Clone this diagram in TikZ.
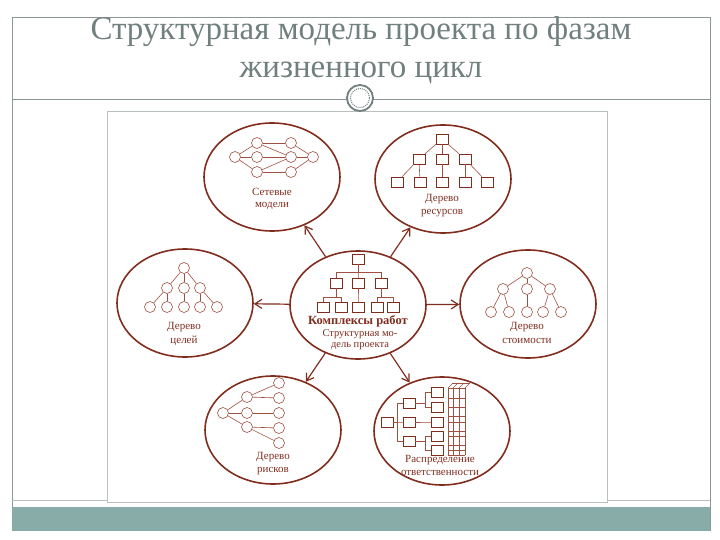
\documentclass[tikz,border=0pt]{standalone}
\usepackage{fontspec}
\setmainfont{Liberation Serif}
\usetikzlibrary{arrows.meta, positioning, shapes.geometric}
\definecolor{ink}{RGB}{128,45,30}
\definecolor{thin}{RGB}{160,80,65}
\definecolor{titlegray}{RGB}{112,128,126}
\definecolor{framegray}{RGB}{140,150,150}
\definecolor{teal}{RGB}{136,172,168}

\tikzset{
  bubble/.style={ellipse, draw=ink, line width=1.6pt, minimum width=136pt, minimum height=108pt, inner sep=0pt},
  dot/.style={circle, draw=thin, line width=0.6pt, minimum size=11pt, inner sep=0pt},
  box/.style={rectangle, draw=ink, line width=0.7pt, minimum width=12pt, minimum height=10pt, inner sep=0pt},
  link/.style={draw=thin, line width=0.6pt},
  lbl/.style={text=ink, font=\fontsize{11}{12}\selectfont, inner sep=0pt},
  arr/.style={draw=ink, line width=1.2pt, -{Straight Barb[length=7pt, width=9pt]}},
}

\begin{document}
\begin{tikzpicture}[x=1pt, y=-1pt]
  \useasboundingbox (0,0) rectangle (720,540);
  % Slide frame
  \draw[framegray, line width=0.8pt] (12,531) -- (12,17) -- (710,17) -- (710,531);
  \fill[teal] (12,507) rectangle (710,531);
  \draw[framegray!60, line width=0.5pt] (107,111) rectangle (607,502);
  \draw[framegray!60, line width=0.5pt] (12,500) -- (107,500) (607,500) -- (710,500);
  \draw[framegray, line width=0.8pt] (12,99) -- (710,99);
  \node[circle, draw=titlegray, fill=white, line width=1.8pt, minimum size=26pt] (ring) at (360,98) {};
  \node[circle, draw=titlegray, densely dotted, line width=1pt, minimum size=19pt] (ringin) at (ring) {};

  % Title
  \node[text=titlegray, font=\fontsize{33}{38}\selectfont, align=center] (title) at (361,50)
    {Структурная модель проекта по фазам\\жизненного цикл};

  % Ellipses
  \node[bubble] (net)  at (272,177) {};
  \node[bubble] (res)  at (443,179) {};
  \node[bubble] (goal) at (185,303) {};
  \node[bubble] (core) at (358,305) {};
  \node[bubble] (cost) at (528,304) {};
  \node[bubble] (risk) at (273,430) {};
  \node[bubble] (resp) at (442,431) {};

  % Arrows from the project model
  \foreach \t in {net, res, goal, cost, risk, resp}
    \draw[arr] (core) -- (\t);

  % Network models
  \node[dot] (nL) at (235,157) {};
  \node[dot] (nA) at (257,143) {};
  \node[dot] (nB) at (257,157) {};
  \node[dot] (nC) at (257,172) {};
  \node[dot] (nD) at (291,143) {};
  \node[dot] (nE) at (291,157) {};
  \node[dot] (nF) at (291,172) {};
  \node[dot] (nR) at (313,157) {};
  \foreach \a/\b in {nL/nA, nL/nB, nL/nC, nA/nD, nB/nE, nC/nF, nD/nR, nE/nR, nF/nR, nA/nE, nC/nE}
    \draw[link] (\a) -- (\b);
  \node[lbl] (netA) at (272,192) {Сетевые};
  \node[lbl] (netB) at (272,206) {модели};

  % Resource tree
  \node[box] (rR) at (442,139) {};
  \foreach \x [count=\i] in {419,442,465}
    \node[box] (r\i) at (\x,159) {};
  \foreach \x [count=\i from 4] in {397,420,442,465,487}
    \node[box] (r\i) at (\x,182) {};
  \foreach \a/\b in {rR/r1, rR/r2, rR/r3, r1/r4, r1/r5, r2/r6, r3/r7, r3/r8}
    \draw[link] (\a) -- (\b);
  \node[lbl] (resA) at (442,199) {Дерево};
  \node[lbl] (resB) at (442,213) {ресурсов};

  % Goal tree
  \node[dot] (gR) at (184,268) {};
  \foreach \x [count=\i] in {167,184,200}
    \node[dot] (g\i) at (\x,288) {};
  \foreach \x [count=\i from 4] in {150,167,184,200,217}
    \node[dot] (g\i) at (\x,307) {};
  \foreach \a/\b in {gR/g1, gR/g2, gR/g3, g1/g4, g1/g5, g2/g6, g3/g7, g3/g8}
    \draw[link] (\a) -- (\b);
  \node[lbl] (goalA) at (184,327) {Дерево};
  \node[lbl] (goalB) at (184,341) {целей};

  % Cost tree
  \node[dot] (sR) at (527,273) {};
  \foreach \x [count=\i] in {503,527,550}
    \node[dot] (s\i) at (\x,289) {};
  \foreach \x [count=\i from 4] in {491,509,527,543,561}
    \node[dot] (s\i) at (\x,312) {};
  \foreach \a/\b in {sR/s1, sR/s2, sR/s3, s1/s4, s1/s5, s2/s6, s3/s7, s3/s8}
    \draw[link] (\a) -- (\b);
  \node[lbl] (costA) at (527,327) {Дерево};
  \node[lbl] (costB) at (527,341) {стоимости};

  % Work packages
  \node[box] (cR) at (358,259) {};
  \foreach \x [count=\i] in {336,358,381}
    \node[box] (c\i) at (\x,283) {};
  \foreach \x [count=\i from 4] in {323,341,358,377,393}
    \node[box] (c\i) at (\x,307) {};
  \foreach \i in {1,2,3}
    \draw[link] (c\i.north) -- ++(0,-5) -| (cR.south);
  \foreach \a/\b in {c1/c4, c1/c5, c2/c6, c3/c7, c3/c8}
    \draw[link] (\b.north) -- ++(0,-4) -| (\a.south);
  \node[lbl, font=\bfseries\fontsize{12.5}{13}\selectfont] (coreA) at (358,321) {Комплексы работ};
  \node[lbl, font=\fontsize{10.5}{11}\selectfont] (coreB) at (360,334) {Структурная мо-};
  \node[lbl, font=\fontsize{10.5}{11}\selectfont] (coreC) at (360,346) {дель проекта};

  % Risk tree
  \node[dot] (kR) at (223,413) {};
  \foreach \y [count=\i] in {397,413,427}
    \node[dot] (k\i) at (247,\y) {};
  \foreach \y [count=\i from 4] in {383,398,413,428,443}
    \node[dot] (k\i) at (279,\y) {};
  \foreach \a/\b in {kR/k1, kR/k2, kR/k3, k1/k4, k1/k5, k2/k6, k3/k7, k3/k8}
    \draw[link] (\a) -- (\b);
  \node[lbl] (riskA) at (273,457) {Дерево};
  \node[lbl] (riskB) at (273,471) {рисков};

  % Responsibility chart
  \node[box] (pR) at (387,422) {};
  \foreach \y [count=\i] in {403,422,441}
    \node[box] (p\i) at (409,\y) {};
  \foreach \y [count=\i from 4] in {392,407,422,436,450}
    \node[box] (p\i) at (437,\y) {};
  \foreach \i in {1,2,3}
    \draw[link] (p\i.west) -- ++(-5,0) |- (pR.east);
  \foreach \a/\b in {p1/p4, p1/p5, p2/p6, p3/p7, p3/p8}
    \draw[link] (\b.west) -- ++(-5,0) |- (\a.east);
  \foreach \x in {448,453,459,465} {
    \draw[link] (\x,388) -- (\x,455);
    \draw[link] (\x,388) -- ++(5,-5);
  }
  \draw[link] (452,383) -- (470,383);
  \foreach \y in {388,398,407,416,422,431,436,445,450,455}
    \draw[link] (448,\y) -- (465,\y);
  \node[lbl] (respA) at (440,460) {Распределение};
  \node[lbl] (respB) at (440,473) {ответственности};
\end{tikzpicture}
\end{document}
